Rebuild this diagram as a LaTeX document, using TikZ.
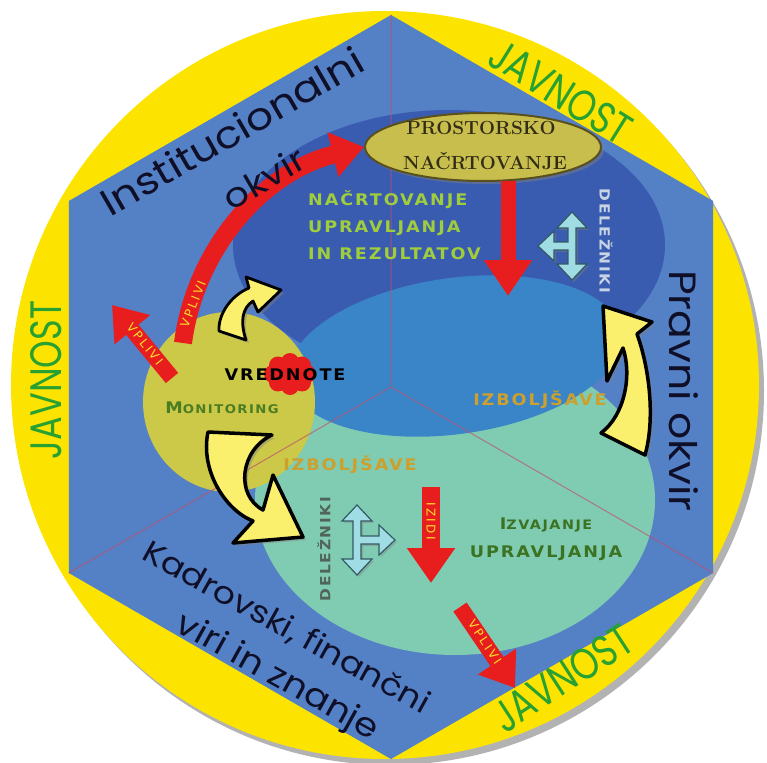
\documentclass[tikz,border=0pt]{standalone}
\usepackage{fontspec}
\usetikzlibrary{arrows.meta,shadows,shapes.geometric}
\newfontfamily\handfont[FakeStretch=1.12]{Poppins}
\newfontfamily\javfont[FakeStretch=0.8]{Poppins}
\newfontfamily\widefont[FakeStretch=1.1,LetterSpace=12]{DejaVu Sans}
\newfontfamily\arrfont[LetterSpace=20]{DejaVu Sans}
\definecolor{ringyellow}{RGB}{252,228,0}
\definecolor{hexblue}{RGB}{84,128,198}
\definecolor{darkell}{RGB}{58,92,176}
\definecolor{midell}{RGB}{58,132,200}
\definecolor{greenell}{RGB}{128,204,178}
\definecolor{monell}{RGB}{204,200,72}
\definecolor{prosell}{RGB}{200,190,78}
\definecolor{prosedge}{RGB}{90,80,30}
\definecolor{arrred}{RGB}{232,30,30}
\definecolor{arryel}{RGB}{250,240,110}
\definecolor{tealfill}{RGB}{160,220,228}
\definecolor{tealedge}{RGB}{50,90,100}
\definecolor{javgreen}{RGB}{40,160,50}
\definecolor{divline}{RGB}{190,80,110}
\definecolor{nacgreen}{RGB}{160,205,60}
\definecolor{izbcol}{RGB}{205,160,45}
\definecolor{moncol}{RGB}{75,125,35}
\definecolor{izvcol}{RGB}{60,115,35}
\definecolor{delcol}{RGB}{200,212,228}
\definecolor{deltwo}{RGB}{80,100,90}
\definecolor{handcol}{RGB}{15,15,40}
\definecolor{vtext}{RGB}{250,225,40}
\begin{document}
\begin{tikzpicture}[x=1pt,y=-1pt,
  redarr/.style={draw=arrred,line width=16pt,-{Triangle[length=32pt,width=44pt]}},
  yarrow/.style={fill=arryel,draw=black,line width=3.5pt,line join=round,
     drop shadow={opacity=0.45,shadow xshift=3pt,shadow yshift=-3pt}},
  tealarr/.style={fill=tealfill,draw=tealedge,line width=1.2pt,line join=miter,
     drop shadow={opacity=0.4,shadow xshift=2pt,shadow yshift=-2pt}},
  wtxt/.style={inner sep=0pt,font={\widefont\bfseries\fontsize{16pt}{18pt}\selectfont}},
  hand/.style={inner sep=0pt,text=handcol,font={\handfont\fontsize{38pt}{42pt}\selectfont}},
  jav/.style={inner sep=0pt,text=javgreen,font={\javfont\fontsize{44pt}{48pt}\selectfont}},
  arrtext/.style={inner sep=0pt,text=vtext,font={\arrfont\fontsize{12pt}{12pt}\selectfont}},
  prostext/.style={inner sep=0pt,text={rgb,255:red,50;green,45;blue,20},font={\bfseries\fontsize{19pt}{22pt}\selectfont}}
]
\useasboundingbox (0,0) rectangle (767,762);
% ring and hexagon
\fill[black,opacity=0.3] (390,391) circle (374);
\fill[ringyellow] (385,385) circle (374);
\fill[hexblue] (391,15) -- (713.2,201) -- (713.2,573) -- (391,759) -- (68.8,573) -- (68.8,201) -- cycle;
% ellipses
\fill[darkell] (449,245) ellipse (216 and 135);
\fill[greenell] (455,500) ellipse (200 and 155);
\fill[midell, rotate around={8:(455,356)}] (455,356) ellipse (168 and 78);
\node[ellipse, fill=monell, minimum width=172pt, minimum height=180pt, inner sep=0pt] (mon) at (229,402) {};
% dividers
\coordinate (hc) at (391,387);
\coordinate (vtop) at (391,15);
\coordinate (vll) at (68.8,573);
\coordinate (vlr) at (713.2,573);
\draw[divline, line width=1pt, opacity=0.7] (vtop) -- (hc) (vll) -- (hc) (vlr) -- (hc);
% prostorsko ellipse
\node[ellipse, fill=prosell, draw=prosedge, line width=2pt, minimum width=236pt, minimum height=68pt,
  drop shadow={opacity=0.45,shadow xshift=3pt,shadow yshift=-3pt}] (pros) at (483,147) {};
\node[prostext] (ptxt1) at (481,128) {PROSTORSKO};
\node[prostext] (ptxt2) at (485,161) {NAČRTOVANJE};
% red blob
\fill[arrred] (290,374) circle (13);
\foreach \a in {0,45,...,315}{\fill[arrred] ({290+17*cos(\a)},{374+12*sin(\a)}) circle (9);}
% yellow curved arrows
\path[yarrow] (208,432) -- (272,435) .. controls (240,450) and (235,495) .. (263,510) -- (273,475) -- (303,537) -- (233,543) -- (253,521) .. controls (225,510) and (200,470) .. (208,432) -- cycle;
\path[yarrow] (603,306) -- (652,322) -- (637,334) .. controls (650,370) and (655,420) .. (645,455) -- (601,433) .. controls (625,415) and (632,375) .. (623,348) -- (607,381) -- cycle;
\path[yarrow, line width=2.8pt] (219,331) .. controls (218,315) and (230,296) .. (249,288) -- (246,277) -- (281,290) -- (258,312) -- (253,301) .. controls (242,308) and (240,322) .. (246,340) -- cycle;
% teal arrows
\path[tealarr] (572,212) -- (587,228) -- (576,228) -- (576,264) -- (587,264) -- (572,280) -- (557,264) -- (568,264) -- (568,250) -- (554,250) -- (554,261) -- (538,246) -- (554,231) -- (554,242) -- (568,242) -- (568,228) -- (557,228) -- cycle;
\path[tealarr] (357,505) -- (372,521) -- (361,521) -- (361,536) -- (379,536) -- (379,525) -- (395,540) -- (379,555) -- (379,544) -- (361,544) -- (361,559) -- (372,559) -- (357,575) -- (342,559) -- (353,559) -- (353,521) -- (342,521) -- cycle;
% red arrows
\coordinate (cvs) at (183,343);
\draw[redarr, line width=18pt] (cvs) .. controls (195,250) and (262,172) .. (pros.west);
\node[arrtext, rotate=68] (vp2) at (193,304) {VPLIVI};
\coordinate (lvs) at (172,378);
\coordinate (lve) at (112,305);
\draw[redarr] (lvs) -- (lve);
\node[arrtext, rotate=-51] (vp1) at (145,344) {VPLIVI};
\coordinate (rvs) at (460,607);
\coordinate (rve) at (515,688);
\draw[redarr] (rvs) -- (rve);
\node[arrtext, rotate=-56] (vp3) at (485,642) {VPLIVI};
\coordinate (dps) at (508,181);
\coordinate (dpe) at (508,296);
\draw[redarr, line width=15pt, -{Triangle[length=36pt,width=46pt]}] (dps) -- (dpe);
\coordinate (izs) at (431,487);
\coordinate (ize) at (431,583);
\draw[redarr, line width=18pt, -{Triangle[length=35pt,width=46pt]}] (izs) -- (ize);
\node[arrtext, rotate=-90] (izidi) at (431,521) {IZIDI};
% wide texts
\node[wtxt, text=nacgreen, anchor=west] (n1) at (308,200) {NAČRTOVANJE};
\node[wtxt, text=nacgreen, anchor=west] (n2) at (308,228) {UPRAVLJANJA};
\node[wtxt, text=nacgreen, anchor=west] (n3) at (308,254) {IN REZULTATOV};
\node[wtxt, text=delcol, rotate=-90, font={\widefont\bfseries\fontsize{14pt}{16pt}\selectfont}] (del1) at (606,241) {DELEŽNIKI};
\node[wtxt, text=izbcol] (izb1) at (540,400) {IZBOLJŠAVE};
\node[wtxt, text=izbcol] (izb2) at (350,465) {IZBOLJŠAVE};
\node[wtxt, text=black] (vred) at (285,375) {VREDNOTE};
\node[wtxt, text=moncol] (mont) at (222,408) {M{\fontsize{12pt}{14pt}\selectfont ONITORING}};
\node[wtxt, text=deltwo, rotate=90, font={\widefont\bfseries\fontsize{14pt}{16pt}\selectfont}] (del2) at (324,549) {DELEŽNIKI};
\node[wtxt, text=izvcol] (izv1) at (546,525) {I{\fontsize{13pt}{14pt}\selectfont ZVAJANJE}};
\node[wtxt, text=izvcol] (izv2) at (546,553) {UPRAVLJANJA};
% handwritten labels
\node[hand, rotate=30, font={\handfont\fontsize{38pt}{44pt}\selectfont}] (inst) at (232,131) {Institucionalni};
\node[hand, rotate=30, font={\handfont\fontsize{34pt}{40pt}\selectfont}] (okv1) at (264,178) {okvir};
\node[hand, rotate=-90] (prav) at (684,391) {Pravni okvir};
\node[hand, rotate=-29, font={\handfont\fontsize{31pt}{36pt}\selectfont}] (kad) at (286,628) {Kadrovski, finančni};
\node[hand, rotate=-29, font={\handfont\fontsize{33pt}{40pt}\selectfont}] (viri) at (277,678) {viri in znanje};
% JAVNOST
\node[jav, rotate=-32] (j1) at (561,92) {JAVNOST};
\node[jav, rotate=90] (j2) at (46,380) {JAVNOST};
\node[jav, rotate=33] (j3) at (563,678) {JAVNOST};
\end{tikzpicture}
\end{document}
